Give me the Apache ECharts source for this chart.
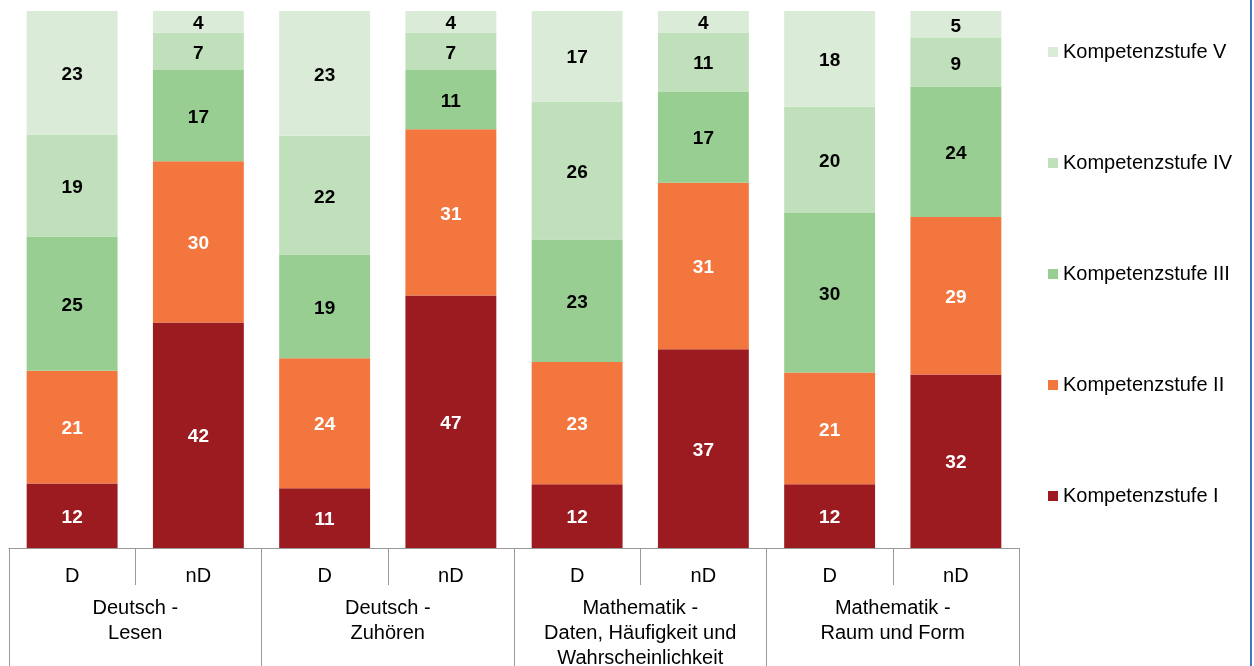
<!DOCTYPE html>
<html><head><meta charset="utf-8">
<script src="https://cdn.jsdelivr.net/npm/echarts@6/dist/echarts.min.js"></script>
<style>html,body{margin:0;padding:0;background:#fff}#c{width:1254px;height:666px}</style>
</head><body><div id="c"></div>
<script>
const barLabels = ['D','nD','D','nD','D','nD','D','nD'];
const groups = ['Deutsch -\nLesen','Deutsch -\nZuhören','Mathematik -\nDaten, Häufigkeit und\nWahrscheinlichkeit','Mathematik -\nRaum und Form'];
const seriesNames = ['Kompetenzstufe I','Kompetenzstufe II','Kompetenzstufe III','Kompetenzstufe IV','Kompetenzstufe V'];
const stufeI   = [12,42,11,47,12,37,12,32];
const stufeII  = [21,30,24,31,23,31,21,29];
const stufeIII = [25,17,19,11,23,17,30,24];
const stufeIV  = [19,7,22,7,26,11,20,9];
const stufeV   = [23,4,23,4,17,4,18,5];
const colors = ['#9C1B21','#F2763E','#98CE91','#BFE0BA','#DAECD7'];
const labelColors = ['#ffffff','#ffffff','#000000','#000000','#000000'];

const all = [stufeI,stufeII,stufeIII,stufeIV,stufeV];
const totals = barLabels.map((_,i)=>all.reduce((s,a)=>s+a[i],0));

const series = all.map((arr,k)=>({
  name: seriesNames[k],
  type:'bar',
  stack:'s',
  barCategoryGap:'28%',
  itemStyle:{color:colors[k]},
  label:{show:true,position:'inside',offset:[0,2],color:labelColors[k],fontWeight:'bold',fontSize:19,fontFamily:'Liberation Sans, Arial',
    formatter:p=>String(arr[p.dataIndex])},
  data: arr.map((v,i)=>({value: v/totals[i]*100}))
}));

const chart = echarts.init(document.getElementById('c'));
chart.setOption({
  animation:false,
  grid:{left:9,right:235,top:11,bottom:118,outerBoundsMode:'none'},
  legend:{
    orient:'vertical', left:1043, top:36,
    data:seriesNames.slice().reverse(),
    itemWidth:10,itemHeight:10,itemGap:89,icon:'rect',
    textStyle:{fontSize:20,color:'#000',fontFamily:'Liberation Sans, Arial',lineHeight:22}
  },
  xAxis:[
    {type:'category',data:barLabels,position:'bottom',
     axisLine:{lineStyle:{color:'#999'}},
     axisTick:{show:true,interval:0,length:37,lineStyle:{color:'#999'}},
     axisLabel:{interval:0,margin:18,fontSize:20,color:'#000',fontFamily:'Liberation Sans, Arial'}},
    {type:'category',data:groups,position:'bottom',
     axisLine:{show:false},
     axisTick:{show:true,interval:0,length:120,lineStyle:{color:'#999'}},
     axisLabel:{interval:0,margin:48,fontSize:20,lineHeight:25,color:'#000',fontFamily:'Liberation Sans, Arial'}}
  ],
  yAxis:{type:'value',min:0,max:100,show:false,splitLine:{show:false}},
  graphic:[{type:'line',shape:{x1:1251,y1:0,x2:1251,y2:666},style:{stroke:'#3C7AC8',lineWidth:2}}],
  series: series
});
</script></body></html>
